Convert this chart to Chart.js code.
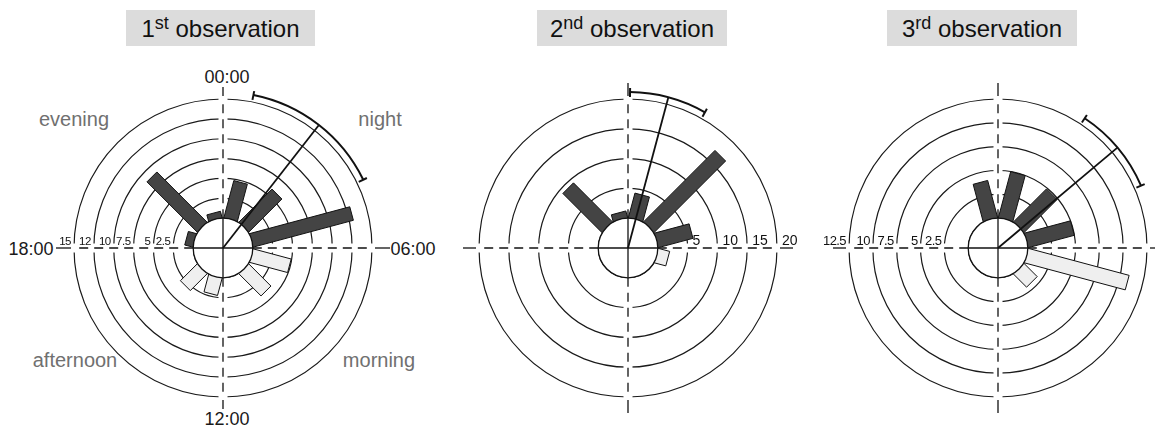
<!DOCTYPE html>
<html>
<head>
<meta charset="utf-8">
<script src="https://cdn.jsdelivr.net/npm/chart.js@4.4.1/dist/chart.umd.min.js"></script>
<style>
  html, body { margin: 0; padding: 0; background: #fff; }
  body { width: 1155px; height: 431px; position: relative; overflow: hidden;
         font-family: "Liberation Sans", Arial, sans-serif; }
  canvas { position: absolute; }
  .title { position: absolute; top: 10px; height: 36px; background: #dcdcdc; color: #111;
           font-size: 24px; line-height: 38px; text-align: center; white-space: nowrap; }
  .title sup { font-size: 18px; line-height: 0; vertical-align: 8px; }
  .lbl { position: absolute; width: 140px; text-align: center; line-height: 1; white-space: nowrap; }
  .phase { font-size: 20px; color: #707070; }
  .clock { font-size: 18px; color: #1a1a1a; }
</style>
</head>
<body>

<div class="title" style="left:126px;width:189px">1<sup>st</sup> observation</div>
<div class="title" style="left:537px;width:190px">2<sup>nd</sup> observation</div>
<div class="title" style="left:887px;width:190px">3<sup>rd</sup> observation</div>

<div class="lbl clock" style="left:157px;top:68px">00:00</div>
<div class="lbl clock" style="left:157px;top:410px">12:00</div>
<div class="lbl clock" style="left:-39px;top:240px">18:00</div>
<div class="lbl clock" style="left:343px;top:240px">06:00</div>
<div class="lbl phase" style="left:4px;top:109px">evening</div>
<div class="lbl phase" style="left:310px;top:109px">night</div>
<div class="lbl phase" style="left:5px;top:350px">afternoon</div>
<div class="lbl phase" style="left:309px;top:350px">morning</div>

<canvas id="obs1" width="400" height="400" style="left:23px;top:48px"></canvas>
<canvas id="obs2" width="400" height="400" style="left:428px;top:48px"></canvas>
<canvas id="obs3" width="400" height="400" style="left:798px;top:48px"></canvas>

<script>
// Two-hour bins around the clock, starting at midnight
const binLabels = ['00-02', '02-04', '04-06', '06-08', '08-10', '10-12',
                   '12-14', '14-16', '16-18', '18-20', '20-22', '22-24'];

// Counts per bin for each observation
const obs1Values = [4.8, 5.85, 13.0, 4.9, 3.9, 0, 2.2, 2.95, 0, 1.0, 8.9, 0.8];
const obs2Values = [4.2, 16.9, 5.95, 1.9, 0, 0, 0, 0, 0, 0, 9.2, 1.1];
const obs3Values = [4.95, 4.85, 4.95, 10.9, 1.9, 0, 0, 0, 0, 0, 0, 4.0];

// Mean activity time and its confidence interval (hours)
const meanHours   = [2.53, 1.0, 3.33];
const ciLowHours  = [0.75, 0.05, 2.25];
const ciHighHours = [4.27, 1.97, 4.43];

// Ring values and their printed labels
const obs1Rings = [2.5, 5, 7.5, 10, 12.5, 15];
const obs1RingLabels = ['2.5', '5', '7.5', '10', '12', '15'];
const obs2Rings = [5, 10, 15, 20];
const obs2RingLabels = ['5', '10', '15', '20'];
const obs3Rings = [2.5, 5, 7.5, 10, 12.5];
const obs3RingLabels = ['2.5', '5', '7.5', '10', '12.5'];

const INK = '#111';
const NIGHT_FILL = '#444';
const DAY_FILL = '#efefef';
const HOLE = 0.2;                 // share of the radius left empty in the middle
const DIRS = [[1, 0], [-1, 0], [0, 1], [0, -1]];

// bins between 18:00 and 06:00 are drawn dark
const isNightBin = i => i <= 2 || i >= 9;

function seg(ctx, x1, y1, x2, y2) {
  ctx.beginPath(); ctx.moveTo(x1, y1); ctx.lineTo(x2, y2); ctx.stroke();
}
const hourAngle = h => h / 24 * Math.PI * 2 - Math.PI / 2;

const rosePlugin = {
  id: 'rose',
  beforeDatasetsDraw(chart, args, o) {
    const s = chart.scales.r, ctx = chart.ctx;
    const cx = s.xCenter, cy = s.yCenter, R = s.drawingArea;
    const r0 = s.getDistanceFromCenterForValue(0);
    ctx.save();
    ctx.lineCap = 'butt';
    // the axes cut small gaps into the rings
    ctx.strokeStyle = '#fff'; ctx.lineWidth = 9;
    seg(ctx, cx - R - 4, cy, cx + R + 4, cy);
    seg(ctx, cx, cy - R - 4, cx, cy + R + 4);
    ctx.strokeStyle = INK; ctx.lineWidth = 1.3;
    ctx.setLineDash([9, 6]);
    for (const [dx, dy] of DIRS) {
      seg(ctx, cx + dx * r0, cy + dy * r0, cx + dx * (R - 2), cy + dy * (R - 2));
    }
    ctx.setLineDash([]);
    for (const [dx, dy] of DIRS) {
      const ext = dx ? o.hReach : o.vReach;
      seg(ctx, cx + dx * (R + 3), cy + dy * (R + 3), cx + dx * ext, cy + dy * ext);
    }
    ctx.restore();
  },
  // the arcs are replaced by rectangular bars below
  beforeDatasetDraw() { return false; },
  afterDatasetsDraw(chart, args, o) {
    const s = chart.scales.r, ctx = chart.ctx;
    const cx = s.xCenter, cy = s.yCenter, R = s.drawingArea;
    const r0 = s.getDistanceFromCenterForValue(0);
    const ds = chart.data.datasets[0];
    const meta = chart.getDatasetMeta(0);
    ctx.save();

    // bars
    meta.data.forEach((arc, i) => {
      if (!(ds.data[i] > 0)) return;
      const p = arc.getProps(['x', 'y', 'startAngle', 'endAngle', 'outerRadius'], true);
      const th = (p.startAngle + p.endAngle) / 2;
      const ux = Math.cos(th), uy = Math.sin(th), nx = -uy, ny = ux, hw = o.barWidth / 2;
      const a = r0 - 5, b = p.outerRadius;
      ctx.beginPath();
      ctx.moveTo(p.x + ux * a + nx * hw, p.y + uy * a + ny * hw);
      ctx.lineTo(p.x + ux * b + nx * hw, p.y + uy * b + ny * hw);
      ctx.lineTo(p.x + ux * b - nx * hw, p.y + uy * b - ny * hw);
      ctx.lineTo(p.x + ux * a - nx * hw, p.y + uy * a - ny * hw);
      ctx.closePath();
      ctx.fillStyle = arc.options.backgroundColor;
      ctx.fill();
      ctx.strokeStyle = arc.options.borderColor;
      ctx.lineWidth = 1;
      ctx.stroke();
    });

    // empty centre
    ctx.beginPath(); ctx.arc(cx, cy, r0, 0, Math.PI * 2);
    ctx.fillStyle = '#fff'; ctx.fill();
    ctx.strokeStyle = INK; ctx.lineWidth = 1.3; ctx.stroke();
    seg(ctx, cx - r0, cy, cx + r0, cy);
    seg(ctx, cx, cy - r0, cx, cy + r0);

    // mean direction with its confidence arc
    const k = o.index, arcR = R + 7;
    const m = hourAngle(meanHours[k]), lo = hourAngle(ciLowHours[k]), hi = hourAngle(ciHighHours[k]);
    ctx.lineWidth = 1.8; ctx.strokeStyle = INK;
    seg(ctx, cx, cy, cx + Math.cos(m) * arcR, cy + Math.sin(m) * arcR);
    ctx.lineWidth = 2;
    ctx.beginPath(); ctx.arc(cx, cy, arcR, lo, hi); ctx.stroke();
    for (const t of [lo, hi]) {
      seg(ctx, cx + Math.cos(t) * (arcR - 5), cy + Math.sin(t) * (arcR - 5),
               cx + Math.cos(t) * (arcR + 4), cy + Math.sin(t) * (arcR + 4));
    }

    // ring labels along the horizontal axis
    ctx.fillStyle = INK;
    ctx.font = o.tickFont;
    ctx.letterSpacing = o.tickSpacing;
    ctx.textBaseline = 'alphabetic';
    ctx.textAlign = o.side === 'left' ? 'right' : 'left';
    o.rings.forEach((v, i) => {
      const r = s.getDistanceFromCenterForValue(v);
      const x = o.side === 'left' ? cx - r - o.tickGap : cx + r + o.tickGap;
      ctx.fillText(o.ringLabels[i], x, cy - 3);
    });
    ctx.restore();
  }
};

function makeRose(id, index, values, rings, ringLabels, look) {
  const max = rings[rings.length - 1];
  return new Chart(document.getElementById(id), {
    type: 'polarArea',
    data: {
      labels: binLabels,
      datasets: [{
        data: values,
        backgroundColor: ctx => isNightBin(ctx.dataIndex) ? NIGHT_FILL : DAY_FILL,
        borderColor: INK,
        borderWidth: 1
      }]
    },
    options: {
      responsive: false,
      animation: false,
      devicePixelRatio: 1,
      layout: { padding: 51 },
      scales: {
        r: {
          min: -max * HOLE / (1 - HOLE),
          max: max,
          startAngle: 0,
          afterBuildTicks: axis => { axis.ticks = [0, ...rings].map(v => ({ value: v })); },
          ticks: { display: false },
          grid: { circular: true, color: '#1a1a1a', lineWidth: 1.2 },
          angleLines: { display: false },
          pointLabels: { display: false }
        }
      },
      plugins: {
        legend: { display: false },
        tooltip: { enabled: false },
        rose: Object.assign({ index, rings, ringLabels }, look)
      }
    },
    plugins: [rosePlugin]
  });
}

makeRose('obs1', 0, obs1Values, obs1Rings, obs1RingLabels,
  { side: 'left', tickGap: 3, tickFont: '11.5px "Liberation Sans", Arial', tickSpacing: '-0.5px',
    barWidth: 14, hReach: 167, vReach: 161 });
makeRose('obs2', 1, obs2Values, obs2Rings, obs2RingLabels,
  { side: 'right', tickGap: 5, tickFont: '14px "Liberation Sans", Arial', tickSpacing: '0px',
    barWidth: 15, hReach: 165, vReach: 165 });
makeRose('obs3', 2, obs3Values, obs3Rings, obs3RingLabels,
  { side: 'left', tickGap: 3, tickFont: '13px "Liberation Sans", Arial', tickSpacing: '-0.6px',
    barWidth: 15, hReach: 165, vReach: 165 });
</script>
</body>
</html>
